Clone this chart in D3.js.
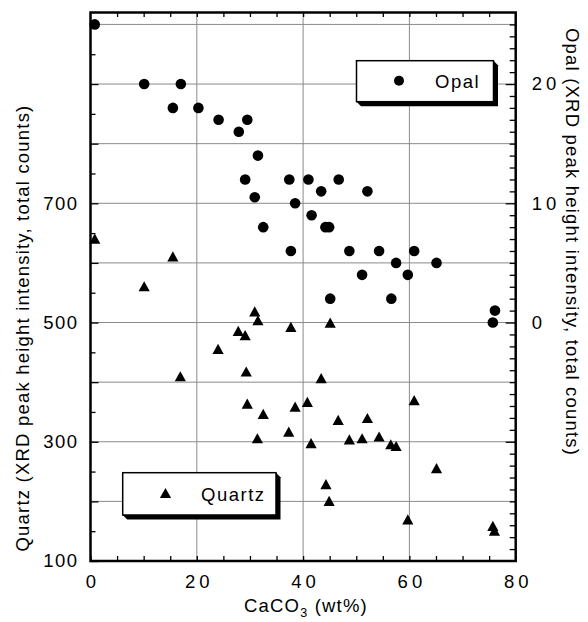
<!DOCTYPE html>
<html>
<head>
<meta charset="utf-8">
<script src="https://cdn.jsdelivr.net/npm/d3@7"></script>
<style>
  html, body { margin: 0; padding: 0; background: #fff; }
  svg { display: block; }
  text { font-family: "Liberation Sans", Arial, Helvetica, sans-serif; fill: #000; }
</style>
</head>
<body>
<svg id="chart" width="588" height="622"></svg>
<script>
// CaCO3 content (wt%) and opal XRD peak height for each sample
const opalCaCO3 = [0.8, 10.1, 17.0, 15.5, 20.3, 24.1, 29.5, 27.9, 31.5, 29.1, 37.4, 30.9, 38.5, 32.5, 37.7,
                   41.0, 43.4, 46.7, 52.1, 41.6, 44.2, 44.9, 48.7, 54.3, 60.9, 57.5, 65.1, 51.1, 59.7, 45.1, 56.6, 76.1, 75.7];
const opalCounts = [25, 20, 20, 18, 18, 17, 17, 16, 14, 12, 12, 10.5, 10, 8, 6,
                    12, 11, 12, 11, 9, 8, 8, 6, 6, 6, 5, 5, 4, 4, 2, 2, 1, 0];

// CaCO3 content (wt%) and quartz XRD peak height for each sample
const quartzCaCO3 = [0.8, 15.5, 10.1, 30.9, 31.5, 27.8, 29.1, 37.7, 24.0, 16.9, 29.3, 29.5, 32.5, 38.5, 31.4, 37.3,
                     43.4, 40.8, 60.9, 46.6, 52.1, 41.5, 48.7, 51.1, 54.3, 56.5, 57.5, 65.1, 44.3, 44.9, 59.7, 75.7, 76.0, 45.1];
const quartzCounts = [640, 610, 560, 518, 503, 485, 478, 492, 455, 409, 417, 363, 346, 358, 305, 316,
                      406, 366, 369, 336, 339, 297, 303, 305, 308, 295, 292, 255, 228, 200, 169, 158, 150, 499];

// Axis tick labels
const xTickLabels = [0, 20, 40, 60, 80];
const quartzTickLabels = [100, 300, 500, 700];
const opalTickLabels = [0, 10, 20];

const svg = d3.select("#chart");
const L = 90.5, R = 515.7, T = 12.5, B = 561;
const FONT = 18.5;

const x = d3.scaleLinear().domain([0, 80]).range([L, R]);
const yQ = d3.scaleLinear().domain([100, 1020]).range([B, T]);
const yO = d3.scaleLinear().domain([-20, 26]).range([B, T]);

// grid lines
const grid = svg.append("g").attr("stroke", "#8a8a8a").attr("stroke-width", 1);
grid.selectAll("line.v").data([20, 40, 60]).join("line")
  .attr("x1", d => x(d)).attr("x2", d => x(d)).attr("y1", T).attr("y2", B);
grid.selectAll("line.h").data(d3.range(200, 1001, 100)).join("line")
  .attr("y1", d => yQ(d)).attr("y2", d => yQ(d)).attr("x1", L).attr("x2", R);

function styleAxis(g, ls) {
  g.select(".domain").remove();
  g.selectAll(".tick line").attr("stroke", "#000").attr("stroke-width", 1.3);
  g.selectAll(".tick text")
    .attr("font-size", FONT)
    .attr("font-family", '"Liberation Sans", Arial, sans-serif')
    .attr("fill", "#000")
    .style("letter-spacing", ls + "px");
}

// bottom axis: minor ticks every 5 wt%, labels every 20
const xb = svg.append("g").attr("transform", `translate(0,${B})`)
  .call(d3.axisBottom(x).tickValues(d3.range(0, 81, 5)).tickSize(-5).tickPadding(13.5)
    .tickFormat(d => xTickLabels.includes(d) ? d : ""));
styleAxis(xb, 4);
xb.selectAll(".tick text").attr("dx", "2");

// top axis: ticks only
const xt = svg.append("g").attr("transform", `translate(0,${T})`)
  .call(d3.axisTop(x).tickValues(d3.range(5, 80, 5)).tickSize(-4.5).tickFormat(""));
styleAxis(xt, 0);

// left axis (quartz): minor ticks every 50, major every 100
const ylMinor = svg.append("g").attr("transform", `translate(${L},0)`)
  .call(d3.axisLeft(yQ).tickValues(d3.range(150, 1020, 100)).tickSize(-5).tickFormat(""));
styleAxis(ylMinor, 0);
const ylMajor = svg.append("g").attr("transform", `translate(${L},0)`)
  .call(d3.axisLeft(yQ).tickValues(d3.range(100, 1001, 100)).tickSize(-8).tickPadding(12)
    .tickFormat(d => quartzTickLabels.includes(d) ? d : ""));
styleAxis(ylMajor, 1.5);

// right axis (opal): minor ticks every 1, major every 10
const yrMinor = svg.append("g").attr("transform", `translate(${R},0)`)
  .call(d3.axisRight(yO).tickValues(d3.range(-19, 26, 1).filter(d => d % 10 !== 0)).tickSize(-6).tickFormat(""));
styleAxis(yrMinor, 0);
const yrMajor = svg.append("g").attr("transform", `translate(${R},0)`)
  .call(d3.axisRight(yO).tickValues([-10, 0, 10, 20]).tickSize(-10).tickPadding(16)
    .tickFormat(d => opalTickLabels.includes(d) ? d : ""));
styleAxis(yrMajor, 4);

// frame
svg.append("rect").attr("x", L).attr("y", T).attr("width", R - L).attr("height", B - T)
  .attr("fill", "none").attr("stroke", "#000").attr("stroke-width", 2.5);

// markers
const triPath = (cx, cy, s) => `M${cx},${cy - s} L${cx + s},${cy + s * 0.82} L${cx - s},${cy + s * 0.82} Z`;

svg.append("g").selectAll("path").data(quartzCaCO3.map((c, i) => [c, quartzCounts[i]])).join("path")
  .attr("d", d => triPath(x(d[0]), yQ(d[1]), 5.6)).attr("fill", "#000");

svg.append("g").selectAll("circle").data(opalCaCO3.map((c, i) => [c, opalCounts[i]])).join("circle")
  .attr("cx", d => x(d[0])).attr("cy", d => yO(d[1])).attr("r", 5.3).attr("fill", "#000");

// legend boxes with extruded shadow
function legendBox(bx, by, bw, bh) {
  const s = 4.5;
  svg.append("polygon")
    .attr("points", [[bx + bw, by], [bx + bw + s, by + s], [bx + bw + s, by + bh + s], [bx + s, by + bh + s], [bx, by + bh]].join(" "))
    .attr("fill", "#000");
  svg.append("rect").attr("x", bx).attr("y", by).attr("width", bw).attr("height", bh)
    .attr("fill", "#fff").attr("stroke", "#000").attr("stroke-width", 1.5);
}
legendBox(356.5, 60.7, 137, 41);
svg.append("circle").attr("cx", 399).attr("cy", 80.7).attr("r", 5).attr("fill", "#000");
svg.append("text").attr("x", 435).attr("y", 87.5).attr("font-size", FONT)
  .style("letter-spacing", "1.5px").text("Opal");

legendBox(122.7, 472.7, 153.3, 42.3);
svg.append("path").attr("d", triPath(165.5, 493.5, 5.6)).attr("fill", "#000");
svg.append("text").attr("x", 201).attr("y", 500.5).attr("font-size", FONT)
  .style("letter-spacing", "1.5px").text("Quartz");

// axis titles
const xTitle = svg.append("text").attr("x", 306).attr("y", 612).attr("text-anchor", "middle")
  .attr("font-size", FONT).style("letter-spacing", "1.2px");
xTitle.append("tspan").text("CaCO");
xTitle.append("tspan").attr("font-size", 12.5).attr("dy", 5).text("3");
xTitle.append("tspan").attr("dy", -5).text(" (wt%)");

svg.append("text").attr("transform", `translate(29,328) rotate(-90)`).attr("text-anchor", "middle")
  .attr("font-size", FONT).style("letter-spacing", "1.2px")
  .text("Quartz (XRD peak height intensity, total counts)");

svg.append("text").attr("transform", `translate(566,28) rotate(90)`).attr("text-anchor", "start")
  .attr("font-size", FONT).style("letter-spacing", "1.2px")
  .text("Opal (XRD peak height intensity, total counts)");
</script>
</body>
</html>
